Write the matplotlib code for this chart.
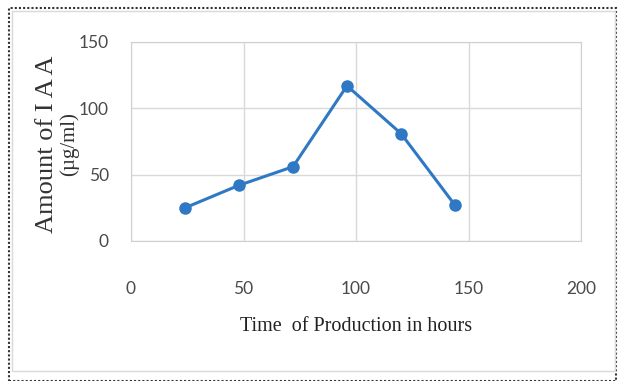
import matplotlib.pyplot as plt
from matplotlib.patches import Rectangle

# Zeit in Stunden und IAA-Menge
hours = [24, 48, 72, 96, 120, 144]
iaa = [25, 42, 56, 117, 81, 27]

xticks = [0, 50, 100, 150, 200]
yticks = [0, 50, 100, 150]

fig = plt.figure(figsize=(6.18, 3.81), dpi=100)
ax = fig.add_axes([131 / 618, 1 - 241 / 381, 450 / 618, 199 / 381])

ax.plot(hours, iaa, color="#2e78c4", linewidth=2.2, marker="o", markersize=8)

ax.set_xlim(0, 200)
ax.set_ylim(0, 150)
ax.set_xticks(xticks)
ax.set_yticks(yticks)
ax.grid(True, color="#d9d9d9", linewidth=1)
ax.set_axisbelow(True)
for s in ax.spines.values():
    s.set_color("#d0d0d0")
ax.tick_params(length=0, labelcolor="#4a4a4a", labelsize=12.5)
ax.tick_params(axis="x", pad=29)
ax.tick_params(axis="y", pad=16)
for lab in ax.get_xticklabels() + ax.get_yticklabels():
    lab.set_family(["Lato", "DejaVu Sans"])

ax.set_xlabel("Time  of Production in hours", family="Liberation Serif",
              fontsize=14.5, color="#222222", labelpad=14)

# y-Beschriftung in zwei Zeilen
fig.text(47 / 618, 1 - 144 / 381, "Amount of I A A", rotation=90, ha="center", va="center",
         family="Liberation Serif", fontsize=19, color="#333333")
fig.text(69 / 618, 1 - 144 / 381, "(µg/ml)", rotation=90, ha="center", va="center",
         family="Liberation Serif", fontsize=15, color="#333333")

# Rahmen
fig.patches.append(Rectangle((9 / 618, 0), 607 / 618, 373 / 381, transform=fig.transFigure,
                             fill=False, edgecolor="#333333", linestyle=(0, (1, 1)), linewidth=1.5))
fig.patches.append(Rectangle((12 / 618, 10 / 381), 603 / 618, 360 / 381, transform=fig.transFigure,
                             fill=False, edgecolor="#d9d9d9", linewidth=1))

fig.savefig("out.png", dpi=100)
